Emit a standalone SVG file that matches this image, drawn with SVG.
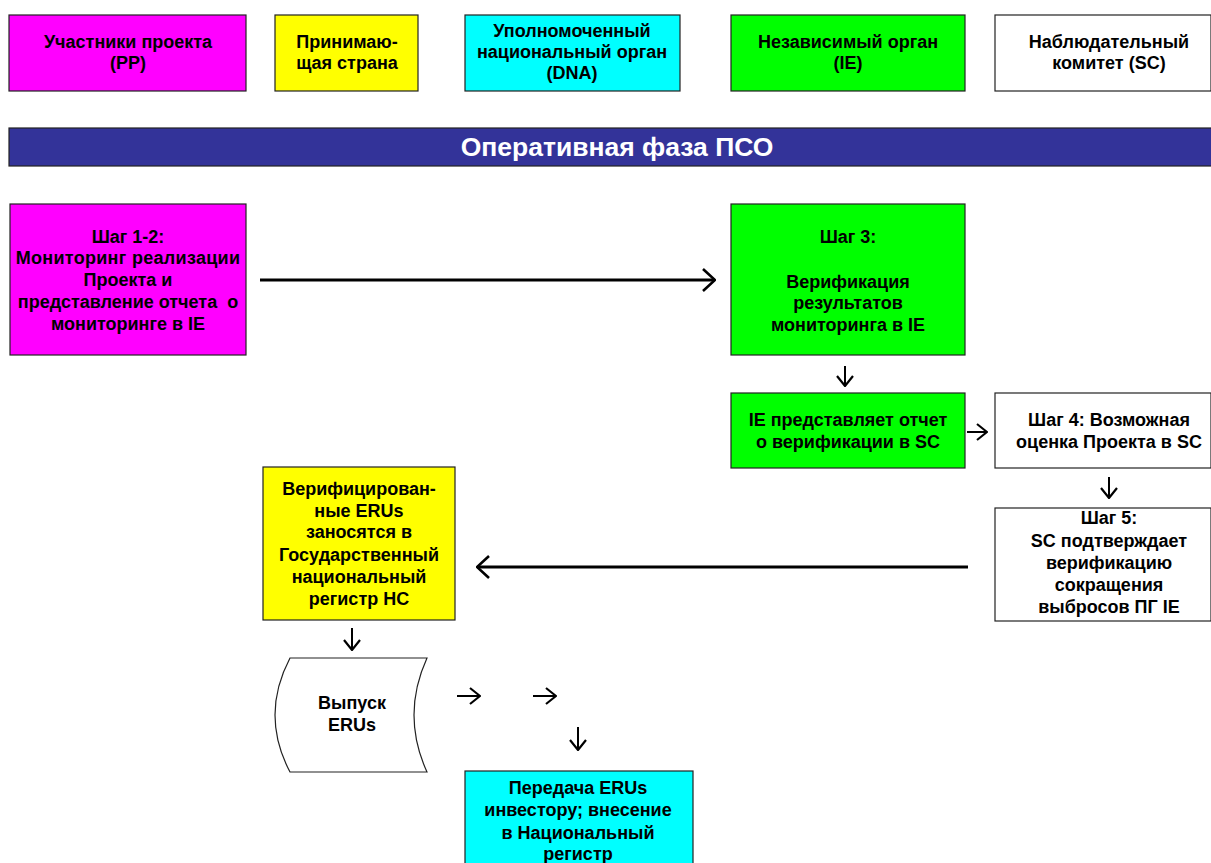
<svg xmlns="http://www.w3.org/2000/svg" width="1211" height="863" viewBox="0 0 1211 863">
<style>
.box{stroke:#222;stroke-width:1.2}
.t{font-family:"Liberation Sans",Arial,sans-serif;font-weight:bold;font-size:18px;fill:#000;text-anchor:middle}
.ban{font-family:"Liberation Sans",Arial,sans-serif;font-weight:bold;font-size:26.5px;fill:#fff;text-anchor:middle}
.ln{stroke:#000;fill:none}
</style>
<defs>
<marker id="ah" markerUnits="userSpaceOnUse" viewBox="0 0 14 24" refX="13" refY="12" markerWidth="14" markerHeight="24" orient="auto">
<path d="M1,1 L13,12 L1,23" fill="none" stroke="#000" stroke-width="2.6"/>
</marker>
<marker id="sh" markerUnits="userSpaceOnUse" viewBox="0 0 12 18" refX="11" refY="9" markerWidth="12" markerHeight="18" orient="auto">
<path d="M1,1 L11,9 L1,17" fill="none" stroke="#000" stroke-width="2.2"/>
</marker>
</defs>
<rect width="1211" height="863" fill="#fff"/>

<g id="legend-pp"><rect class="box" x="9" y="15" width="237" height="76" fill="#ff00ff"/><text class="t" x="128" y="48">Участники проекта</text><text class="t" x="128" y="69">(PP)</text></g>
<g id="legend-host"><rect class="box" x="275" y="15" width="143" height="76" fill="#ffff00"/><text class="t" x="347" y="48">Принимаю-</text><text class="t" x="347" y="69">щая страна</text></g>
<g id="legend-dna"><rect class="box" x="465" y="15" width="215" height="76" fill="#00ffff"/><text class="t" x="572" y="37">Уполномоченный</text><text class="t" x="572" y="58">национальный орган</text><text class="t" x="572" y="79">(DNA)</text></g>
<g id="legend-ie"><rect class="box" x="731" y="15" width="234" height="76" fill="#00ff00"/><text class="t" x="848" y="48">Независимый орган</text><text class="t" x="848" y="69">(IE)</text></g>
<g id="legend-sc"><rect class="box" x="995" y="15" width="216" height="76" fill="#fff"/><text class="t" x="1109" y="48">Наблюдательный</text><text class="t" x="1109" y="69">комитет (SC)</text></g>

<g id="banner"><rect class="box" x="9" y="128" width="1203" height="38" fill="#333399"/><text class="ban" x="617" y="156">Оперативная фаза ПСО</text></g>

<g id="step12"><rect class="box" x="10" y="204" width="236" height="151" fill="#ff00ff"/>
<text class="t" x="128" y="243">Шаг 1-2:</text><text class="t" x="128" y="264" letter-spacing="0.3">Мониторинг реализации</text><text class="t" x="128" y="286">Проекта и</text><text class="t" x="128" y="308" xml:space="preserve">представление отчета  о</text><text class="t" x="128" y="330">мониторинге в IE</text></g>

<g id="step3"><rect class="box" x="731" y="204" width="234" height="151" fill="#00ff00"/>
<text class="t" x="848" y="243">Шаг 3:</text><text class="t" x="848" y="288">Верификация</text><text class="t" x="848" y="309">результатов</text><text class="t" x="848" y="331">мониторинга в IE</text></g>

<g id="ie-report"><rect class="box" x="731" y="393" width="234" height="75" fill="#00ff00"/>
<text class="t" x="848" y="426">IE представляет отчет</text><text class="t" x="848" y="448">о верификации в SC</text></g>

<g id="step4"><rect class="box" x="995" y="393" width="216" height="75" fill="#fff"/>
<text class="t" x="1109" y="426">Шаг 4: Возможная</text><text class="t" x="1109" y="448">оценка Проекта в SC</text></g>

<g id="step5"><rect class="box" x="995" y="508" width="216" height="113" fill="#fff"/>
<text class="t" x="1109" y="524">Шаг 5:</text><text class="t" x="1109" y="547">SC подтверждает</text><text class="t" x="1109" y="569">верификацию</text><text class="t" x="1109" y="591">сокращения</text><text class="t" x="1109" y="613">выбросов ПГ IE</text></g>

<g id="registry"><rect class="box" x="263" y="467" width="192" height="153" fill="#ffff00"/>
<text class="t" x="359" y="495">Верифицирован-</text><text class="t" x="359" y="517">ные ERUs</text><text class="t" x="359" y="538">заносятся в</text><text class="t" x="359" y="561">Государственный</text><text class="t" x="359" y="583">национальный</text><text class="t" x="359" y="605">регистр НС</text></g>

<g id="issue"><path class="box" d="M290,658 L427,658 Q401,715 427,772 L290,772 Q260,715 290,658 Z" fill="#fff" stroke-width="1"/>
<text class="t" x="352" y="709">Выпуск</text><text class="t" x="352" y="731">ERUs</text></g>

<g id="transfer"><rect class="box" x="465" y="771" width="228" height="100" fill="#00ffff"/>
<text class="t" x="578" y="794">Передача ERUs</text><text class="t" x="578" y="816">инвестору; внесение</text><text class="t" x="578" y="839">в Национальный</text><text class="t" x="578" y="860">регистр</text></g>

<g id="connectors">
<line class="ln" x1="260" y1="280" x2="715" y2="280" stroke-width="3" marker-end="url(#ah)"/>
<line class="ln" x1="968" y1="567" x2="477" y2="567" stroke-width="3" marker-end="url(#ah)"/>
<line class="ln" x1="845" y1="366" x2="845" y2="386" stroke-width="2" marker-end="url(#sh)"/>
<line class="ln" x1="967" y1="432" x2="987" y2="432" stroke-width="2" marker-end="url(#sh)"/>
<line class="ln" x1="1109" y1="477" x2="1109" y2="498" stroke-width="2" marker-end="url(#sh)"/>
<line class="ln" x1="352" y1="628" x2="352" y2="650" stroke-width="2" marker-end="url(#sh)"/>
<line class="ln" x1="457" y1="696" x2="480" y2="696" stroke-width="2" marker-end="url(#sh)"/>
<line class="ln" x1="533" y1="696" x2="556" y2="696" stroke-width="2" marker-end="url(#sh)"/>
<line class="ln" x1="578" y1="727" x2="578" y2="750" stroke-width="2" marker-end="url(#sh)"/>
</g>
</svg>
